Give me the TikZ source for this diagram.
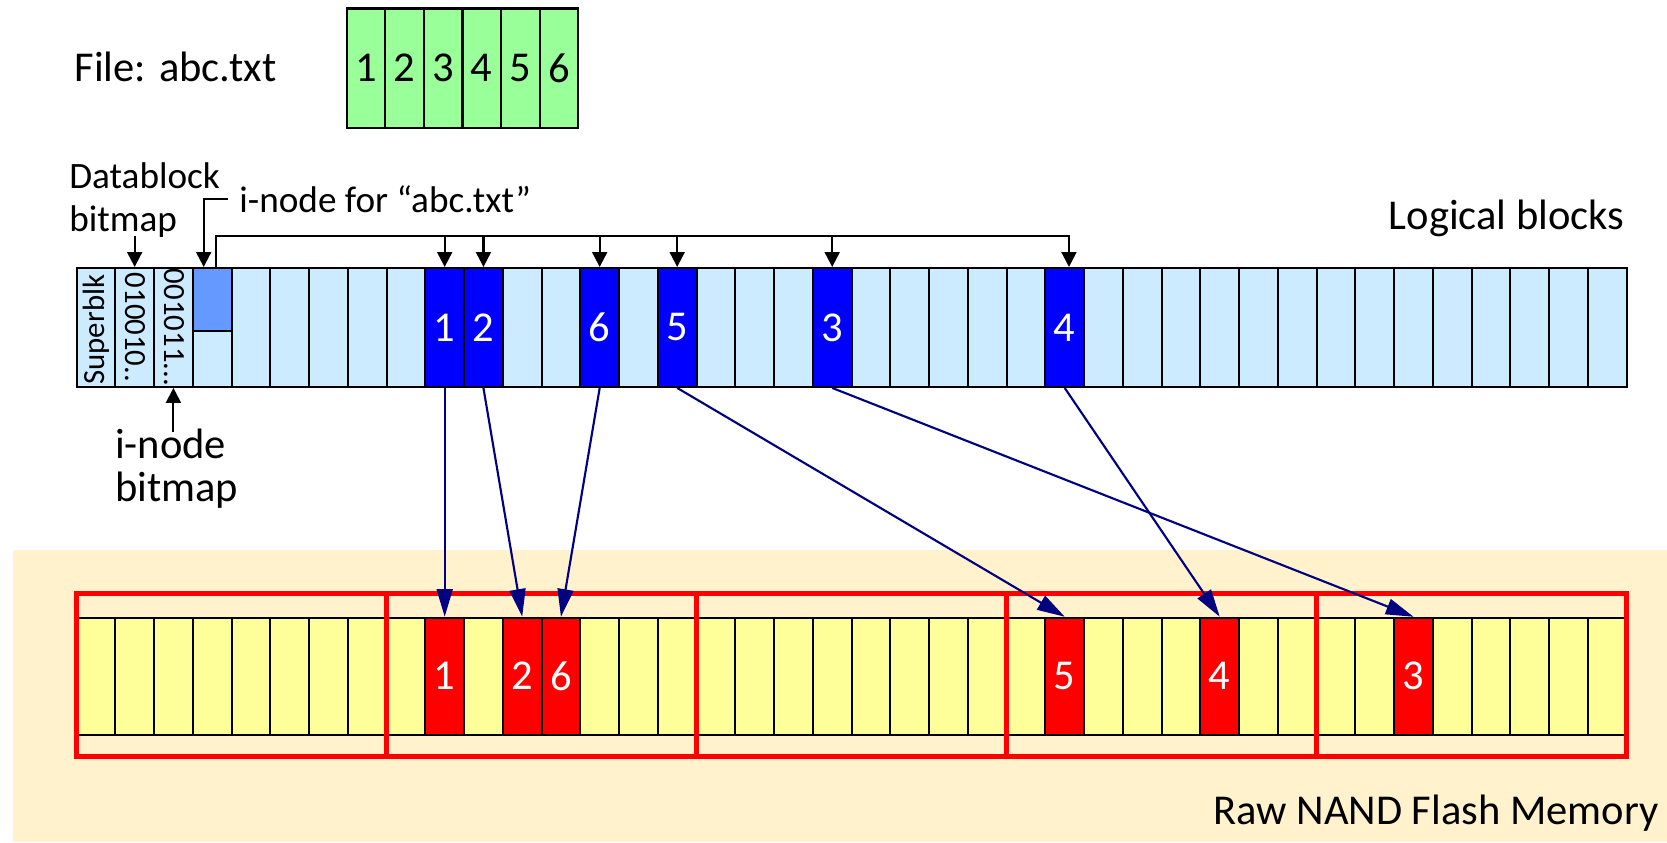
\documentclass[tikz,border=0pt]{standalone}
\usepackage{fontspec}
\setmainfont{Carlito}
\usetikzlibrary{arrows.meta,calc}

\definecolor{filegreen}{HTML}{99FF99}
\definecolor{logblue}{HTML}{CCEBFF}
\definecolor{inodeblue}{HTML}{6699FF}
\definecolor{blockblue}{HTML}{0000FF}
\definecolor{flashyellow}{HTML}{FFFF99}
\definecolor{flashbg}{HTML}{FFF2CC}
\definecolor{mapnavy}{HTML}{000080}

\newcommand{\bigfont}{\fontsize{40}{41}\selectfont}
\newcommand{\midfont}{\fontsize{35}{40}\selectfont}
\newcommand{\cellfont}{\fontsize{29}{30}\selectfont}

\begin{document}
\begin{tikzpicture}[x=1pt,y=-1pt,
  lcell/.style={draw=black, line width=1.8pt, fill=logblue, inner sep=0pt,
    minimum width=36.45pt, minimum height=112pt},
  pcell/.style={draw=black, line width=1.8pt, fill=flashyellow, inner sep=0pt,
    minimum width=36.45pt, minimum height=110pt},
  fcell/.style={draw=black, line width=2pt, fill=filegreen, inner sep=0pt,
    minimum width=36.33pt, minimum height=112pt, font=\bigfont},
  usedblk/.style={lcell, fill=blockblue, text=white, font=\bigfont},
  flashblk/.style={pcell, fill=red, text=white, font=\bigfont},
  eraseblk/.style={draw=red, line width=4.7pt, inner sep=0pt,
    minimum width=291.6pt, minimum height=154pt},
  label/.style={font=\bigfont, inner sep=0pt},
  smalllabel/.style={font=\midfont, inner sep=0pt},
  celltext/.style={font=\cellfont, inner sep=0pt},
  ptr/.style={line width=2pt, draw=black, -{Triangle[length=14pt,width=14pt]}},
  plainline/.style={line width=2pt, draw=black},
  map/.style={line width=2pt, draw=mapnavy, -{Triangle[length=26pt,width=15pt]}, fill=mapnavy}]

\useasboundingbox (0,0) rectangle (1568,792);

% flash memory area
\fill[flashbg] (12,517) rectangle (1568,792);

% the file and its six blocks
\node[label, anchor=west] (fname) at (70,63) {File: abc.txt};
\foreach \t in {1,...,6}
  \node[fcell] (F\t) at ({326+36.33*(\t-0.5)},64) {\t};

% logical block strip
\foreach \i in {0,...,39}
  \node[lcell] (L\i) at ({72+36.45*(\i+0.5)},308) {};
\node[celltext, rotate=90] (sblk) at ($(L0)+(0,2)$) {Superblk};
\node[celltext, rotate=-90] (dbmap) at ($(L1)+(1,0)$) {010010..};
\node[celltext, rotate=-90] (ibmap) at ($(L2)+(1,0)$) {001011...};
\node[draw=black, line width=1.8pt, fill=inodeblue, inner sep=0pt,
  minimum width=36.45pt, minimum height=59pt, anchor=north] (IN) at (L3.north) {};
\foreach \i/\t in {9/1,10/2,13/6,15/5,19/3,25/4}
  \node[usedblk] (B\t) at (L\i) {\t};

% physical flash strip
\foreach \i in {0,...,39}
  \node[pcell] (P\i) at ({72+36.45*(\i+0.5)},636) {};
\foreach \i/\t in {9/1,11/2,12/6,25/5,29/4,34/3}
  \node[flashblk] (R\t) at (P\i) {\t};
\foreach \k in {0,...,4}
  \node[eraseblk] (E\k) at ({72+291.6*(\k+0.5)},635) {};

% labels
\node[smalllabel, anchor=west, align=left] (dblabel) at (65,188) {Datablock\\bitmap};
\node[smalllabel, anchor=west] (inlabel) at (225,187) {i-node for “abc.txt”};
\node[label, anchor=east] (logical) at (1528,205) {Logical blocks};
\node[label, anchor=west, align=left] (iblabel) at (108,441) {i-node\\bitmap};
\node[label, anchor=east] (rawnand) at (1560,765) {Raw NAND Flash Memory};

% pointers from the labels
\coordinate (bk) at (0,222);
\draw[ptr] (L1.north |- bk) -- (L1.north);
\draw[ptr] ($(L2.south)+(0,41)$) -- (L2.south);
\draw[ptr] ($(inlabel.west)+(-11,0)$) -| ($(IN.north)+(-8,0)$);

% i-node pointers to the data blocks
\draw[plainline] ($(IN.north)+(4,0)$) |- ($(B4.north |- bk)+(4,0)$) -- ($(B4.north)+(4,-14)$);
\foreach \t in {1,2,6,5,3}
  \draw[ptr] (B\t.north |- bk) -- (B\t.north);
\draw[ptr] ($(B4.north |- bk)+(4,0)$) -- ($(B4.north)+(4,0)$);

% logical to physical mapping
\foreach \t in {1,2,6,5,3,4}
  \draw[map] (B\t.south) -- (R\t.north);

\end{tikzpicture}
\end{document}
